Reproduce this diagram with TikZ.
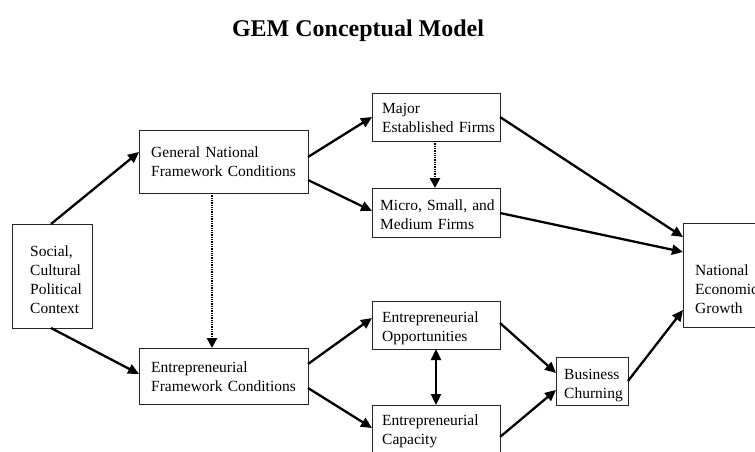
\documentclass[tikz,border=0pt]{standalone}
\usepackage{fontspec}
\setmainfont{Liberation Serif}
\usetikzlibrary{arrows.meta}
\tikzset{
  box/.style={draw=black!85, line width=0.8pt, inner sep=0pt, outer sep=0pt},
  txt/.style={inner sep=0pt, align=left, anchor=base west, font=\fontsize{15.5}{19}\selectfont},
  arr/.style={line width=2.3pt, -{Triangle[length=11pt,width=10pt]}},
  darr/.style={line width=2.3pt, {Triangle[length=11pt,width=10pt]}-{Triangle[length=11pt,width=10pt]}},
  dotarr/.style={line width=2.8pt, dash pattern=on 1.3pt off 1pt, -{Triangle[length=10pt,width=10pt]}}
}
\begin{document}
\begin{tikzpicture}[x=1pt,y=-1pt]
\useasboundingbox (0,0) rectangle (755,452);
\clip (0,0) rectangle (755,452);
\fill[white] (0,0) rectangle (755,452);
\node[font=\bfseries\fontsize{24}{28}\selectfont, inner sep=0pt] (title) at (358,31) {GEM Conceptual Model};
% boxes
\node[box, minimum width=80pt, minimum height=104pt] (soc) at (52,276) {};
\node[box, minimum width=169pt, minimum height=63pt] (gen) at (223.5,161.5) {};
\node[box, minimum width=128pt, minimum height=48pt] (maj) at (436,117) {};
\node[box, minimum width=128pt, minimum height=49pt] (mic) at (436,212.5) {};
\node[box, minimum width=169pt, minimum height=56pt] (efc) at (223.5,376) {};
\node[box, minimum width=128pt, minimum height=48pt] (opp) at (436,325) {};
\node[box, minimum width=128pt, minimum height=65pt] (cap) at (436,437.5) {};
\node[box, minimum width=72pt, minimum height=48pt] (bus) at (592,381) {};
\node[box, minimum width=107pt, minimum height=104pt] (nat) at (736.5,275) {};
% texts
\node[txt, text width=70pt] (tsoc) at (30,256) {Social,\\Cultural\\Political\\Context};
\node[txt, text width=160pt] (tgen) at (151,157) {General National\\Framework Conditions};
\node[txt, text width=125pt] (tmaj) at (382,113) {Major\\Established Firms};
\node[txt, text width=125pt] (tmic) at (380,210) {Micro, Small, and\\Medium Firms};
\node[txt, text width=160pt] (tefc) at (151,372) {Entrepreneurial\\Framework Conditions};
\node[txt, text width=125pt] (topp) at (382,322) {Entrepreneurial\\Opportunities};
\node[txt, text width=125pt] (tcap) at (382,425) {Entrepreneurial\\Capacity};
\node[txt, text width=70pt] (tbus) at (564,379) {Business\\Churning};
\node[txt, text width=90pt] (tnat) at (695,275) {National\\Economic\\Growth};
% connectors
\draw[arr] ([xshift=-1pt]soc.north) -- ([yshift=-22pt]gen.north west);
\draw[arr] ([xshift=-1pt]soc.south) -- ([yshift=-26pt]efc.north west);
\draw[arr] ([yshift=-27pt]gen.north east) -- ([yshift=-24pt]maj.north west);
\draw[arr] ([yshift=-50pt]gen.north east) -- ([yshift=-23pt]mic.north west);
\draw[dotarr] ([xshift=73pt]gen.south west) -- ([xshift=73pt]efc.north west);
\draw[dotarr] ([xshift=63pt]maj.south west) -- ([xshift=63pt]mic.north west);
\draw[arr] ([yshift=-16pt]efc.north east) -- ([yshift=-17pt]opp.north west);
\draw[arr] ([yshift=-40pt]efc.north east) -- ([yshift=-23pt]cap.north west);
\draw[darr] ([xshift=64pt]opp.south west) -- ([xshift=64pt]cap.north west);
\draw[arr] ([yshift=-24pt]maj.north east) -- ([yshift=-14pt]nat.north west);
\draw[arr] ([yshift=-25pt]mic.north east) -- ([yshift=-29pt]nat.north west);
\draw[arr] ([yshift=-22pt]opp.north east) -- ([yshift=-16pt]bus.north west);
\draw[arr] ([yshift=-32pt]cap.north east) -- ([yshift=-33pt]bus.north west);
\draw[arr] ([yshift=-24pt]bus.north east) -- ([yshift=-87pt]nat.north west);
\end{tikzpicture}
\end{document}
